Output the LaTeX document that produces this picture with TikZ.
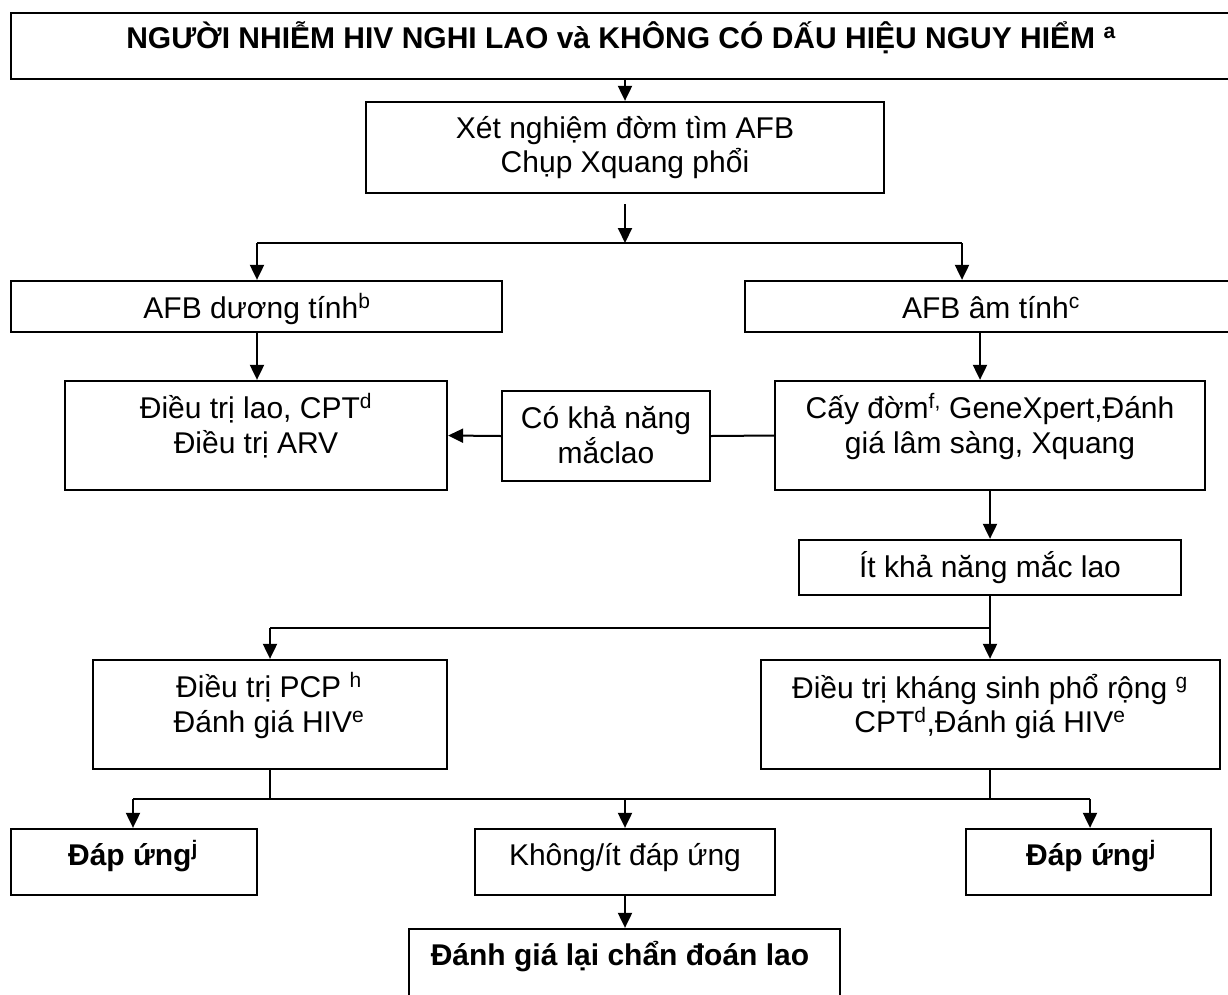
\documentclass[tikz,border=0pt]{standalone}
\usepackage{fontspec}
\setmainfont{Liberation Sans}
\usetikzlibrary{arrows.meta}
\begin{document}
\begin{tikzpicture}[x=1pt,y=-1pt,
  box/.style={draw, line width=2.3pt, inner sep=0pt},
  txt/.style={anchor=base, inner sep=0pt, font=\fontsize{30}{35}\selectfont},
  btxt/.style={anchor=base, inner sep=0pt, font=\fontsize{30}{35}\selectfont\bfseries},
  arr/.style={line width=2pt, -{Triangle[length=15pt,width=14pt]}},
  ln/.style={line width=2pt}]
\useasboundingbox (0,0) rectangle (1228,994);
% boxes
\node[box, minimum width=1229pt, minimum height=66pt] (top) at (625.5,46) {};
\node[box, minimum width=518pt, minimum height=91pt] (xn) at (625,147.5) {};
\node[box, minimum width=491pt, minimum height=51pt] (duong) at (256.5,306.5) {};
\node[box, minimum width=495pt, minimum height=51pt] (am) at (992.5,306.5) {};
\node[box, minimum width=382pt, minimum height=109pt] (dtlao) at (256,435.5) {};
\node[box, minimum width=208pt, minimum height=90pt] (cokn) at (606,436) {};
\node[box, minimum width=430pt, minimum height=109pt] (cay) at (990,435.5) {};
\node[box, minimum width=382pt, minimum height=55pt] (it) at (990,567.5) {};
\node[box, minimum width=354pt, minimum height=109pt] (pcp) at (270,714.5) {};
\node[box, minimum width=459pt, minimum height=109pt] (ks) at (990.5,714.5) {};
\node[box, minimum width=246pt, minimum height=66pt] (du1) at (134,862) {};
\node[box, minimum width=300pt, minimum height=66pt] (khong) at (625,862) {};
\node[box, minimum width=245pt, minimum height=66pt] (du2) at (1088.5,862) {};
\node[box, minimum width=431pt, minimum height=81pt] (dgl) at (624.5,969.5) {};
% texts
\node[btxt] (t1) at (621,48) {NGƯỜI NHIỄM HIV NGHI LAO và KHÔNG CÓ DẤU HIỆU NGUY HIỂM \textsuperscript{a}};
\node[txt] (t2a) at (625,138) {Xét nghiệm đờm tìm AFB};
\node[txt] (t2b) at (625,172) {Chụp Xquang phổi};
\node[txt] (t3) at (257,318) {AFB dương tính\textsuperscript{b}};
\node[txt] (t4) at (991,318) {AFB âm tính\textsuperscript{c}};
\node[txt] (t5a) at (256,418) {Điều trị lao, CPT\textsuperscript{d}};
\node[txt] (t5b) at (256,453) {Điều trị ARV};
\node[txt] (t6a) at (606,428) {Có khả năng};
\node[txt] (t6b) at (606,463) {mắclao};
\node[txt] (t7a) at (990,418) {Cấy đờm\textsuperscript{f,} GeneXpert,Đánh};
\node[txt] (t7b) at (990,453) {giá lâm sàng, Xquang};
\node[txt] (t8) at (990,577) {Ít khả năng mắc lao};
\node[txt] (t9a) at (269,697) {Điều trị PCP \textsuperscript{h}};
\node[txt] (t9b) at (269,732) {Đánh giá HIV\textsuperscript{e}};
\node[txt] (t10a) at (990,698) {Điều trị kháng sinh phổ rộng \textsuperscript{g}};
\node[txt] (t10b) at (990,732) {CPT\textsuperscript{d},Đánh giá HIV\textsuperscript{e}};
\node[btxt] (t11) at (133,865) {Đáp ứng\textsuperscript{j}};
\node[txt] (t12) at (625,865) {Không/ít đáp ứng};
\node[btxt] (t13) at (1091,865) {Đáp ứng\textsuperscript{j}};
\node[btxt] (t14) at (620,965) {Đánh giá lại chẩn đoán lao};
% connectors
\draw[arr] (xn.north |- top.south) -- (xn.north);
\coordinate (s1) at (625,243);
\coordinate (sl) at (257,243);
\coordinate (sr) at (962,243);
\draw[arr] ([yshift=-10pt]xn.south) -- (s1);
\draw[ln] (sl) -- (sr);
\draw[arr] (sl) -- (sl |- duong.north);
\draw[arr] (sr) -- (sr |- am.north);
\draw[arr] (sl |- duong.south) -- (sl |- dtlao.north);
\coordinate (ax) at (980,300);
\draw[arr] (ax |- am.south) -- (ax |- cay.north);
\draw[ln] (cay.west) -- (cokn.east);
\draw[arr] (cokn.west) -- (dtlao.east);
\draw[arr] (cay.south) -- (it.north);
\draw[arr] (it.south) -- (it.south |- ks.north);
\coordinate (s2) at (990,628);
\coordinate (s2l) at (270,628);
\draw[ln] (s2) -- (s2l);
\draw[arr] (s2l) -- (pcp.north);
\coordinate (b1) at (270,799);
\coordinate (b1l) at (133,799);
\coordinate (b1r) at (642,799);
\draw[ln] (pcp.south) -- (b1);
\draw[ln] (b1l) -- (b1r);
\draw[arr] (b1l) -- (b1l |- du1.north);
\coordinate (b2) at (990,799);
\coordinate (b2l) at (625,799);
\coordinate (b2r) at (1090,799);
\draw[ln] (b2 |- ks.south) -- (b2);
\draw[ln] (b2l) -- (b2r);
\draw[arr] (b2l) -- (khong.north);
\draw[arr] (b2r) -- (b2r |- du2.north);
\draw[arr] (khong.south) -- (khong.south |- dgl.north);
\end{tikzpicture}
\end{document}
